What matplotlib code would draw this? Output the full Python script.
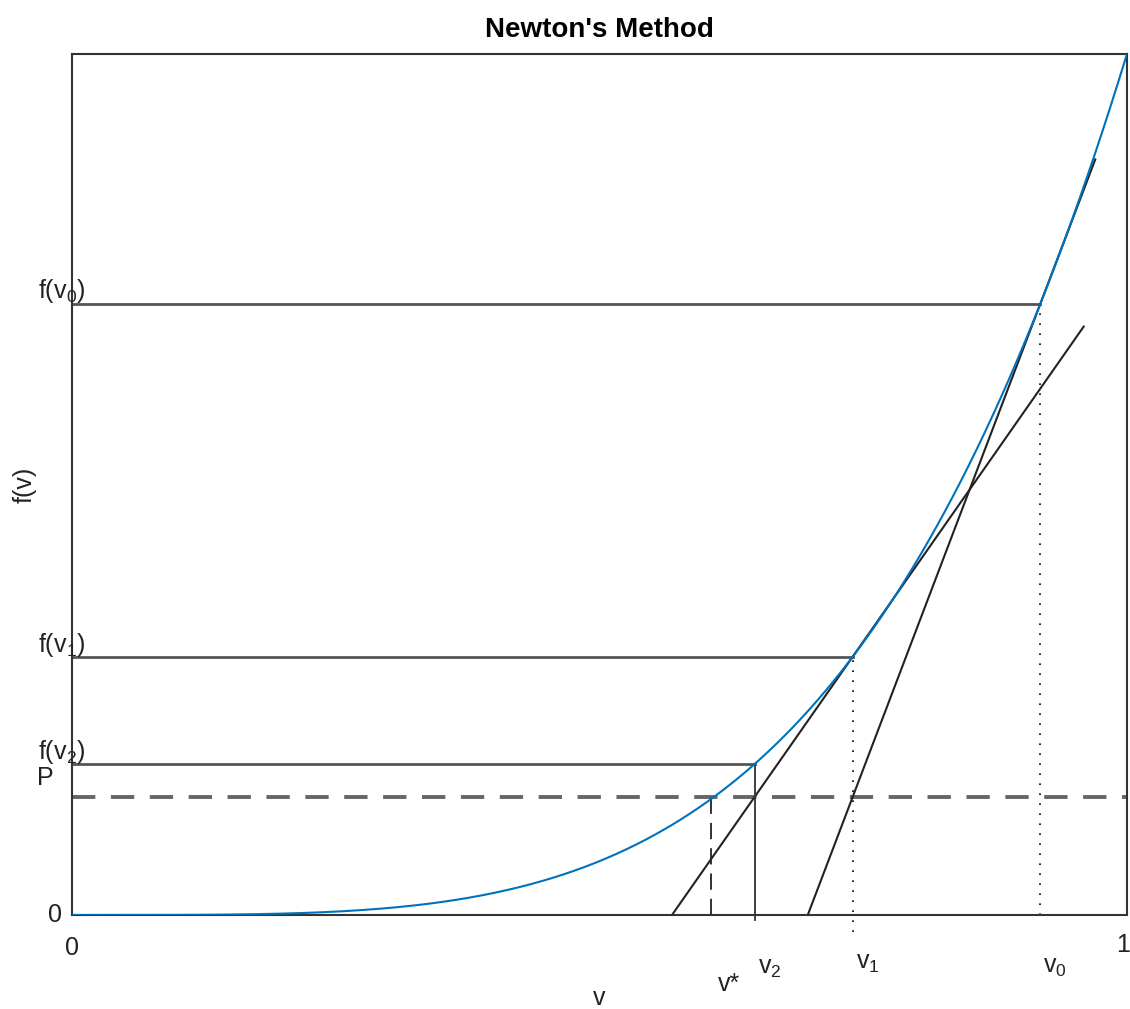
import matplotlib.pyplot as plt
import numpy as np

plt.rcParams['font.family'] = ['Liberation Sans', 'DejaVu Sans']
plt.rcParams['mathtext.fontset'] = 'custom'
plt.rcParams['mathtext.rm'] = 'Liberation Sans'
plt.rcParams['mathtext.it'] = 'Liberation Sans'

# values
v_iter = [0.918, 0.740, 0.647]      # v0, v1, v2
v_star = 0.606
P = 0.137
power = 4                           # f(v) = v^4
tan_end = [0.970, 0.959]            # where the tangent lines stop on the right
y_labels = ['f(v$_0$)', 'f(v$_1$)', 'f(v$_2$)']
x_labels = ['v$_0$', 'v$_1$', 'v$_2$']


def f(v):
    return np.asarray(v) ** power


fig = plt.figure(figsize=(11.3, 10.09), dpi=100)
ax = fig.add_axes([0.0637, 0.0932, 0.9336, 0.8533])

vv = np.linspace(0, 1, 400)
ax.plot(vv, f(vv), color='#0072BD', lw=1.5, zorder=4)

fv = [float(f(v)) for v in v_iter]

# horizontal lines at f(v_n)
for v, y in zip(v_iter, fv):
    ax.plot([0, v], [y, y], color='#555555', lw=2)

# P level
ax.plot([0, 1], [P, P], color='#666666', lw=2.8, ls=(0, (6, 4)))

# tangent lines: through (v_n, f(v_n)) and (v_{n+1}, P)
for i in range(2):
    slope = (fv[i] - P) / (v_iter[i] - v_iter[i + 1])
    x0 = v_iter[i] - fv[i] / slope
    xs = np.array([x0, tan_end[i]])
    ax.plot(xs, fv[i] + slope * (xs - v_iter[i]), color='#222222', lw=1.5)

# vertical markers
ax.plot([v_iter[0], v_iter[0]], [0, fv[0]], color='black', lw=1.2, ls=(0, (1, 5)))
ax.plot([v_iter[1], v_iter[1]], [-0.02, fv[1]], color='black', lw=1.2,
        ls=(0, (1, 5)), clip_on=False)
ax.plot([v_iter[2], v_iter[2]], [-0.006, fv[2]], color='#333333', lw=1.3,
        clip_on=False)
ax.plot([v_star, v_star], [0, P], color='#222222', lw=1.3, ls=(0, (9, 5)))

ax.set_xlim(0, 1)
ax.set_ylim(0, 1)
ax.set_xticks([])
ax.set_yticks([])
for s in ax.spines.values():
    s.set_color('#333333')
    s.set_linewidth(1.5)

fs = 18
col = '#222222'
# y-side labels
for y, lab in zip(fv, y_labels):
    ax.text(0.013, y + 0.006, lab, ha='right', va='baseline', fontsize=fs,
            color=col, transform=ax.get_yaxis_transform())
ax.text(-0.025, P + 0.008, 'P', ha='center', va='bottom', fontsize=fs,
        color=col, transform=ax.get_yaxis_transform())
ax.text(-0.016, 0, '0', ha='center', va='center', fontsize=fs,
        color=col, transform=ax.get_yaxis_transform())

# x-side labels
ax.text(0, -0.038, '0', ha='center', va='center', fontsize=fs,
        color=col, transform=ax.get_xaxis_transform())
ax.text(0.996, -0.035, '1', ha='center', va='center', fontsize=fs,
        color=col, transform=ax.get_xaxis_transform())
offs = [-0.06, -0.056, -0.062]
for v, lab, o in zip(v_iter, x_labels, offs):
    ax.text(v + 0.014, o, lab, ha='center', va='center', fontsize=fs,
            color=col, transform=ax.get_xaxis_transform())
ax.text(v_star + 0.017, -0.08, 'v*', ha='center', va='center', fontsize=fs,
        color=col, transform=ax.get_xaxis_transform())

ax.text(0.5, -0.096, 'v', ha='center', va='center', fontsize=fs,
        color=col, transform=ax.transAxes)
ax.text(-0.045, 0.5, 'f(v)', ha='center', va='center', fontsize=fs,
        rotation=90, color=col, transform=ax.transAxes)

ax.set_title("Newton's Method", fontsize=20, fontweight='bold', pad=12)

fig.savefig('out.png', dpi=100)
